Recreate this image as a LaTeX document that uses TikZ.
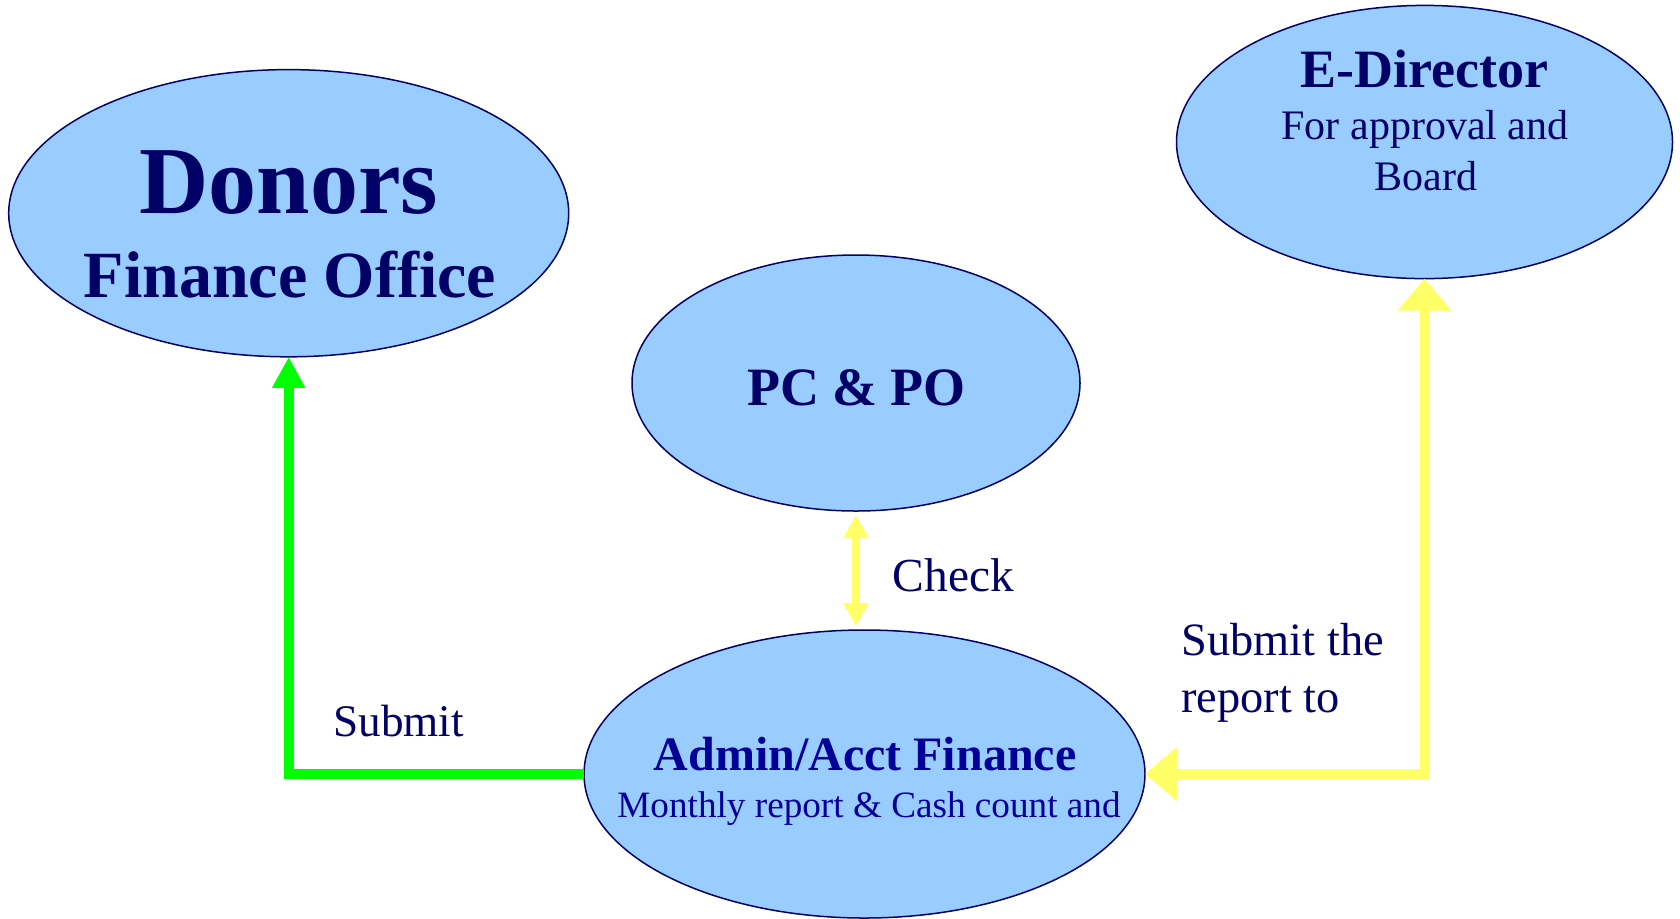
\documentclass[tikz,border=0pt]{standalone}
\usepackage{fontspec}
\setmainfont{Liberation Serif}
\usetikzlibrary{shapes.geometric, arrows.meta}
\definecolor{ellfill}{HTML}{99CCFF}
\definecolor{navy}{HTML}{000066}
\definecolor{admblue}{HTML}{000099}
\definecolor{submitgreen}{HTML}{00FF00}
\definecolor{checkyellow}{HTML}{FFFF66}
\newcommand{\fs}[1]{\fontsize{#1}{1.2\dimexpr#1pt\relax}\selectfont}

\begin{document}
\begin{tikzpicture}[x=0.5pt, y=-0.5pt,
	office/.style={ellipse, draw=navy, line width=0.75pt, fill=ellfill, inner sep=0pt, outer sep=0pt},
	txt/.style={anchor=base, text=navy, inner sep=0pt},
	lbl/.style={anchor=base west, text=navy, inner sep=0pt},
	greenline/.style={submitgreen, line width=5pt},
	yellowline/.style={checkyellow, line width=5pt}]
	\useasboundingbox (0, 0) rectangle (1680, 918);

	\node[office, minimum width=280pt, minimum height=143.6pt] (donors) at (288.7, 213.2) {};
	\node[office, minimum width=224pt, minimum height=128pt] (pc) at (856, 383) {};
	\node[office, minimum width=248pt, minimum height=136.6pt] (edir) at (1424.5, 142) {};
	\node[office, minimum width=280.5pt, minimum height=144pt] (adm) at (864.5, 774) {};

	\node[txt, font=\fs{48}\bfseries] (donors_1) at (289, 213) {Donors};
	\node[txt, font=\fs{33}\bfseries] (donors_2) at (290, 297) {Finance Office};
	\node[txt, font=\fs{27}\bfseries] (pc_1) at (856.5, 405) {PC \& PO};
	\node[txt, font=\fs{27}\bfseries] (edir_1) at (1424.5, 87.5) {E-Director};
	\node[txt, font=\fs{21}] (edir_2) at (1425, 139.5) {For approval and};
	\node[txt, font=\fs{21}] (edir_3) at (1426, 190.5) {Board};
	\node[txt, text=admblue, font=\fs{24}\bfseries] (adm_1) at (865, 770.5) {Admin/Acct Finance};
	\node[txt, text=admblue, font=\fs{18.6}] (adm_2) at (869, 817) {Monthly report \& Cash count and};

	\node[lbl, font=\fs{23.7}] (check) at (892.5, 591) {Check};
	\node[lbl, font=\fs{22.6}] (submit) at (333, 736) {Submit};
	\node[lbl, font=\fs{23.2}] (report_1) at (1181, 655) {Submit the};
	\node[lbl, font=\fs{23.2}] (report_2) at (1181, 712.5) {report to};

	\draw[greenline, -{Triangle[length=15.5pt, width=15.5pt]}] (adm.west) -| (donors.south);
	\draw[yellowline, {Triangle[length=16pt, width=26pt]}-{Triangle[length=16pt, width=26pt]}] (adm.east) -| (edir.south);
	\draw[checkyellow, line width=4pt, {Triangle[length=11.5pt, width=12pt]}-{Triangle[length=11.5pt, width=12pt]}, shorten <=2pt, shorten >=2pt] (pc.south) to (pc.south |- adm.north);
\end{tikzpicture}
\end{document}
